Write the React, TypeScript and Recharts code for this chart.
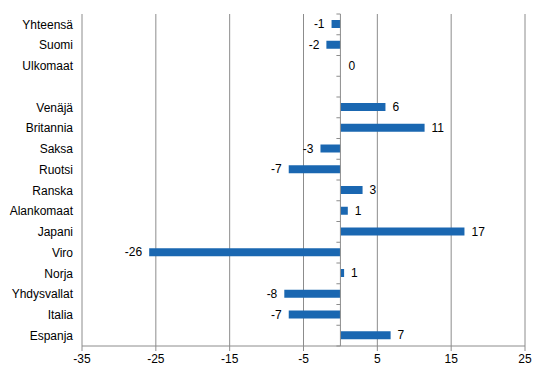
import { BarChart, Bar, XAxis, YAxis, CartesianGrid, LabelList, ReferenceLine, Cell } from 'recharts';

const categories = [
    'Yhteensä', 'Suomi', 'Ulkomaat', ' ', 'Venäjä', 'Britannia', 'Saksa', 'Ruotsi',
    'Ranska', 'Alankomaat', 'Japani', 'Viro', 'Norja', 'Yhdysvallat', 'Italia', 'Espanja'
];
const values: (number | null)[] = [
    -1.2, -1.9, 0, null, 6.1, 11.4, -2.7, -7.0,
    3.0, 1.0, 16.8, -25.9, 0.5, -7.6, -7.0, 6.8
];
const xTicks = [-35, -25, -15, -5, 5, 15, 25];

const data = categories.map((name, i) => ({ name, value: values[i] }));

const FONT = '"Liberation Sans", Arial, sans-serif';
const GRID = '#8c8c8c';
const BAR = '#1a67b1';

const ValueLabel = (props: any) => {
    const { x, y, width, height, value } = props;
    if (value === null || value === undefined) return null;
    const left = Math.min(x, x + width);
    const right = Math.max(x, x + width);
    const neg = value < 0;
    return (
        <text
            x={neg ? left - 7 : right + 7}
            y={y + height / 2}
            dy="0.35em"
            textAnchor={neg ? 'end' : 'start'}
            fontSize={12}
            fontFamily={FONT}
            fill="#000"
        >
            {Math.round(value)}
        </text>
    );
};

// zero axis with small ticks at category boundaries
const ZeroAxis = (props: any) => {
    const { x1, y1, y2 } = props;
    const n = categories.length;
    const step = (y2 - y1) / n;
    const ticks = [];
    for (let i = 0; i <= n; i++) {
        const ty = y1 + step * i;
        ticks.push(<line key={i} x1={x1 - 4} y1={ty} x2={x1} y2={ty} stroke={GRID} />);
    }
    return (
        <g>
            <line x1={x1} y1={y1} x2={x1} y2={y2} stroke={GRID} />
            {ticks}
        </g>
    );
};

export default function App() {
    return (
        <div style={{ position: 'absolute', left: 0, top: 0 }}>
            <BarChart
                width={547}
                height={376}
                data={data}
                layout="vertical"
                margin={{ top: 14, right: 22, bottom: 0, left: 0 }}
                barCategoryGap={0}
            >
                <CartesianGrid horizontal={false} stroke={GRID} />
                <XAxis
                    type="number"
                    domain={[-35, 25]}
                    ticks={xTicks}
                    interval={0}
                    stroke={GRID}
                    tickSize={5}
                    tickMargin={3}
                    height={30}
                    tick={{ fill: '#000', fontSize: 12, fontFamily: FONT }}
                />
                <YAxis
                    type="category"
                    dataKey="name"
                    width={82}
                    interval={0}
                    axisLine={false}
                    tickLine={false}
                    tickMargin={3}
                    tick={{ fill: '#000', fontSize: 12, fontFamily: FONT }}
                />
                <Bar
                    dataKey="value"
                    fill={BAR}
                    barSize={8}
                    minPointSize={(v: any) => (v === 0 ? 1 : 0)}
                    isAnimationActive={false}
                >
                    {data.map((d, i) => (
                        <Cell key={i} fill={d.value === 0 ? 'transparent' : BAR} />
                    ))}
                    <LabelList dataKey="value" content={<ValueLabel />} />
                </Bar>
                <ReferenceLine x={0} stroke={GRID} shape={(p: any) => <ZeroAxis {...p} />} />
            </BarChart>
        </div>
    );
}
